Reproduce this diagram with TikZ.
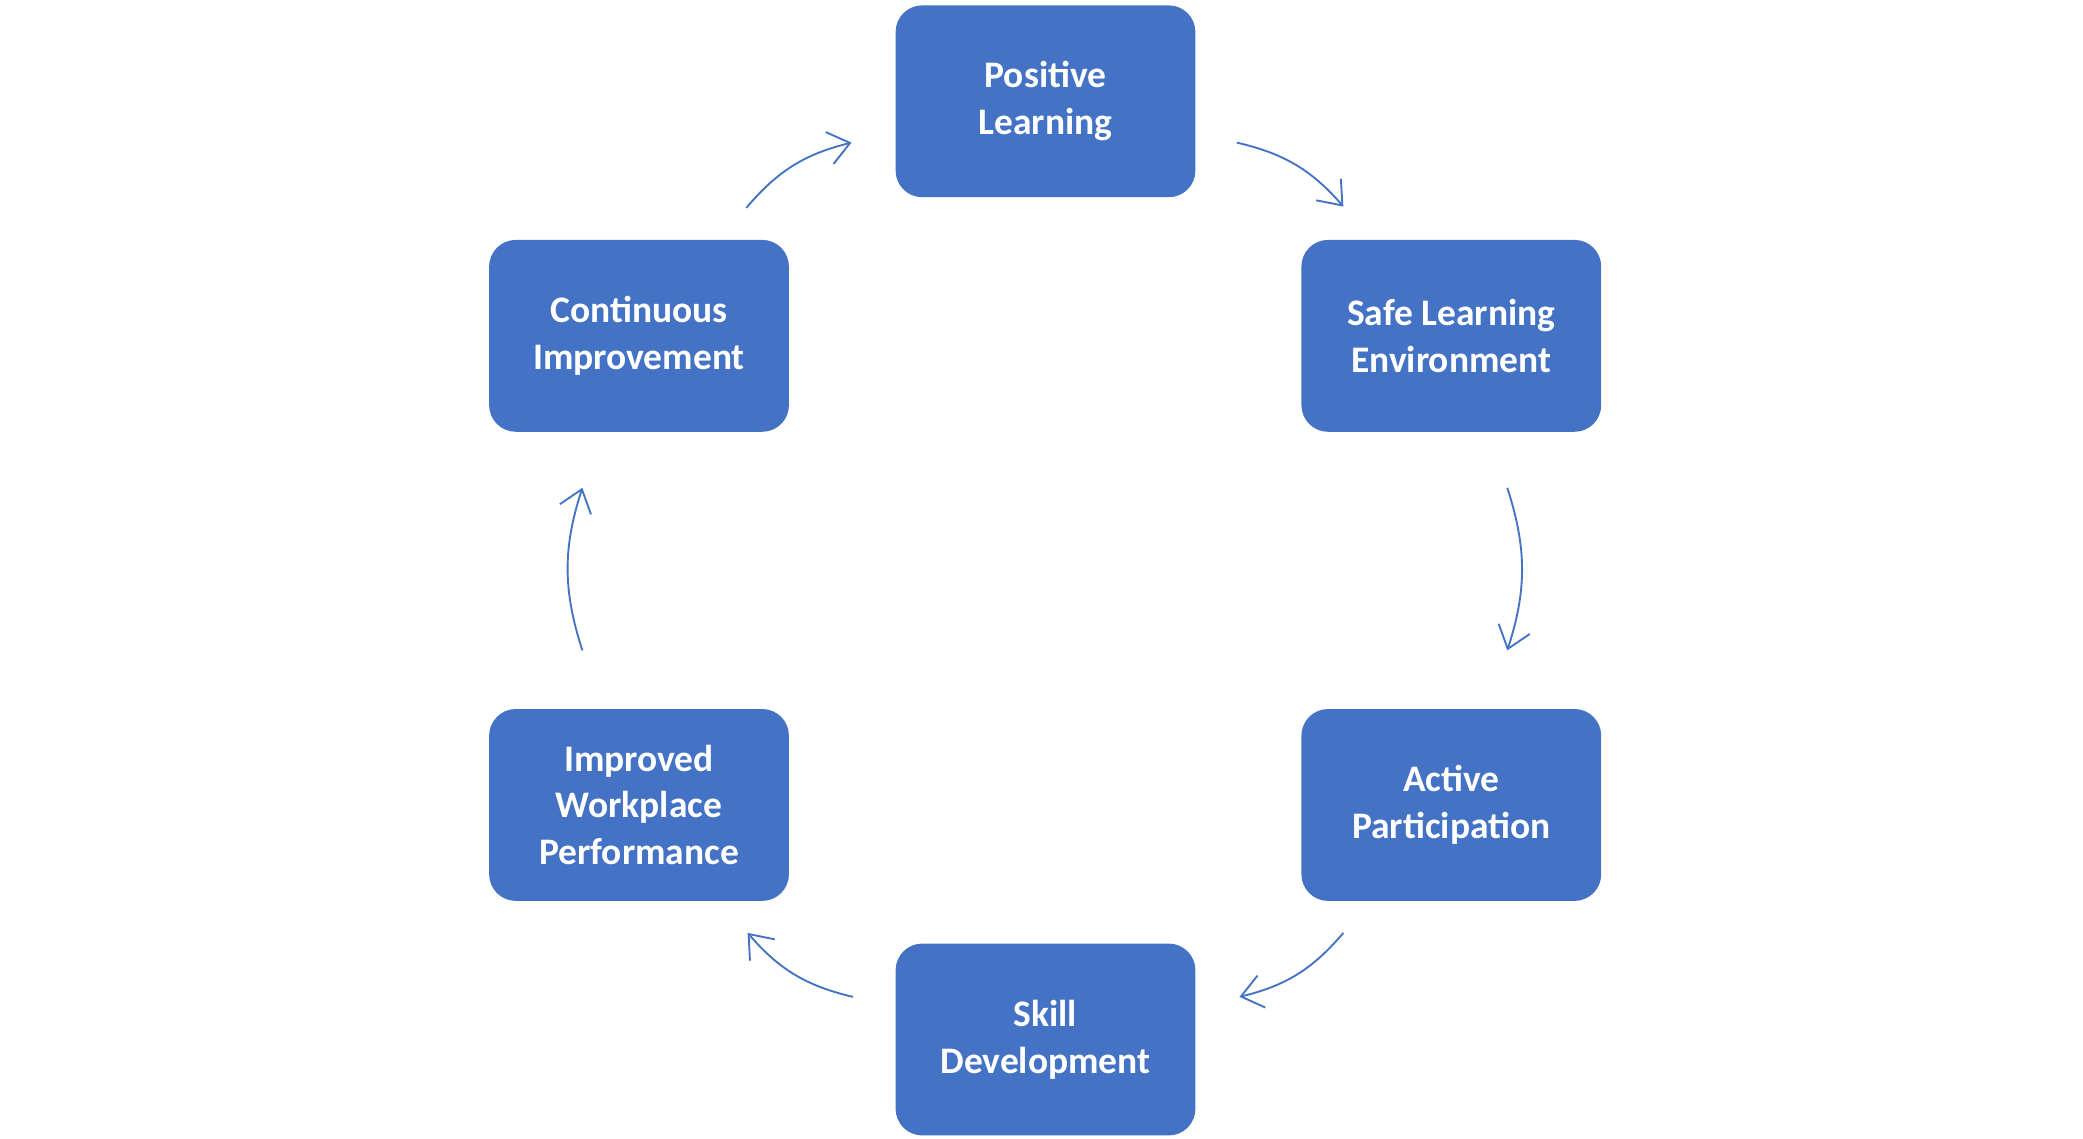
\documentclass[tikz,border=0pt]{standalone}
\usepackage{fontspec}
\setmainfont{Carlito}
\usetikzlibrary{arrows.meta}
\definecolor{boxblue}{HTML}{4472C4}
\begin{document}
\begin{tikzpicture}[x=0.02cm,y=-0.02cm,
  box/.style={rounded corners=0.4cm,fill=boxblue,minimum width=4.5cm,minimum height=2.88cm,align=center,text=white,font=\fontsize{16}{20}\selectfont\bfseries},
  conn/.style={draw=boxblue,line width=0.8pt,-{Straight Barb[length=9pt,width=14pt,line width=0.8pt]},bend left=18}]
\useasboundingbox (0,0) rectangle (1563,854.5);
\node[box] (pl) at (784.5,76) {Positive\\Learning};
\node[box] (sl) at (1089,252) {Safe Learning\\Environment};
\node[box] (ap) at (1089,604) {Active\\Participation};
\node[box] (sd) at (784.5,780) {Skill\\Development};
\node[box] (iw) at (479.5,604) {Improved\\Workplace\\Performance};
\node[box] (ci) at (479.5,252) {Continuous\\Improvement};
\coordinate (a1) at (928,107); \coordinate (b1) at (1008,155);
\coordinate (a2) at (1131,366); \coordinate (b2) at (1131,488);
\coordinate (a3) at (1008,700); \coordinate (b3) at (930,748);
\coordinate (a4) at (640,748); \coordinate (b4) at (561,700);
\coordinate (a5) at (437,488); \coordinate (b5) at (437,366);
\coordinate (a6) at (560,156); \coordinate (b6) at (639,107);
\draw[conn] (a1) to (b1);
\draw[conn] (a2) to (b2);
\draw[conn] (a3) to (b3);
\draw[conn] (a4) to (b4);
\draw[conn] (a5) to (b5);
\draw[conn] (a6) to (b6);
\end{tikzpicture}
\end{document}
